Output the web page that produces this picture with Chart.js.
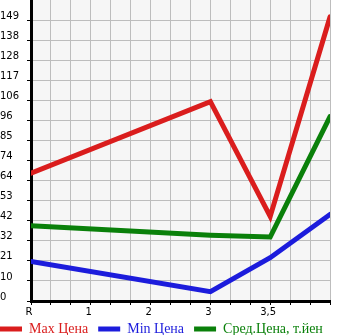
<!DOCTYPE html>
<html>
<head>
<meta charset="utf-8">
<script src="https://cdn.jsdelivr.net/npm/chart.js@4"></script>
<style>
  html, body { margin: 0; padding: 0; background: #fff; overflow: hidden; }
  #wrap { position: relative; width: 345px; height: 335px; }
</style>
</head>
<body>
<div id="wrap"><canvas id="priceChart"></canvas></div>
<script>
// x axis labels (one per unit on the x scale)
const xLabels = ['R', '1', '2', '3', '3,5'];
// x position of each data point on that scale
const pointPos = [0, 3, 4, 5];
const maxPrice = [68, 106, 45, 151];
const minPrice = [21, 5, 23, 46];
const avgPrice = [40, 35, 34, 98];
const seriesNames = ['Max Цена', 'Min Цена', 'Сред.Цена, т.йен'];
const seriesColors = ['#da1d1d', '#1c1cdc', '#0a800a'];

const yMax = 160;
const yStep = 160 / 15;

const toPoints = vals => vals.map((v, i) => ({ x: pointPos[i], y: v }));

const makeSet = (i, vals) => ({
    label: seriesNames[i],
    data: toPoints(vals),
    borderColor: seriesColors[i],
    backgroundColor: seriesColors[i],
    borderWidth: 5,
    borderCapStyle: 'round',
    borderJoinStyle: 'miter',
    pointRadius: 0,
    tension: 0,
    yAxisID: 'y'
});

// light grey plot background, and y labels pulled back to the left edge
const plotBg = {
    id: 'plotBg',
    afterLayout(chart) {
        chart.scales.y.left = 0;
    },
    beforeDraw(chart) {
        const a = chart.chartArea, ctx = chart.ctx;
        ctx.save();
        ctx.fillStyle = '#f6f6f6';
        ctx.fillRect(a.left, a.top, a.right - a.left, a.bottom - a.top);
        ctx.restore();
    }
};

const config = {
    type: 'line',
    data: { datasets: [makeSet(0, maxPrice), makeSet(1, minPrice), makeSet(2, avgPrice)] },
    options: {
        responsive: true,
        maintainAspectRatio: false,
        animation: false,
        layout: { padding: { left: -10, right: 0, top: 0, bottom: -11 } },
        scales: {
            x: {
                type: 'linear',
                min: 0,
                max: 5,
                afterBuildTicks: s => { s.ticks = Array.from({ length: 16 }, (_, i) => ({ value: i / 3 })); },
                afterFit: s => { s.height = 11; s.paddingLeft = 0; s.paddingRight = 0; },
                grid: { color: '#bdbdbd', lineWidth: 1, tickColor: '#000', tickLength: 4 },
                border: { color: '#000', width: 3 },
                ticks: {
                    autoSkip: false,
                    maxRotation: 0,
                    // mirrored so the labels are not clipped to the thin axis box
                    mirror: true,
                    padding: -17,
                    labelOffset: -2,
                    color: '#000',
                    font: { family: 'DejaVu Sans', size: 10 },
                    callback: v => {
                        const k = Math.round(v * 3);
                        return (k % 3 === 0 && k / 3 < xLabels.length) ? xLabels[k / 3] : '';
                    }
                }
            },
            y: {
                min: 0,
                max: yMax,
                afterBuildTicks: s => { s.ticks = Array.from({ length: 15 }, (_, i) => ({ value: i * yStep })); },
                afterFit: s => { s.width = 41; s.paddingTop = 0; s.paddingBottom = 0; },
                grid: { color: '#bdbdbd', lineWidth: 1, tickColor: '#000', tickLength: 4 },
                border: { color: '#000', width: 3 },
                ticks: {
                    crossAlign: 'far',
                    labelOffset: -4,
                    color: '#000',
                    font: { family: 'DejaVu Sans', size: 10 },
                    callback: v => String(Math.floor(v + 1e-6))
                }
            },
            // empty strip on the right so the plot stops short of the edge
            pad: {
                position: 'right',
                grid: { display: false, drawTicks: false },
                border: { display: false },
                ticks: { display: false },
                afterFit: s => { s.width = 15; }
            }
        },
        plugins: {
            tooltip: { enabled: false },
            legend: {
                position: 'bottom',
                align: 'start',
                labels: {
                    boxWidth: 22,
                    boxHeight: 5,
                    useBorderRadius: true,
                    borderRadius: 2.5,
                    padding: 10,
                    font: { family: 'Liberation Serif', size: 14 },
                    generateLabels: chart => chart.data.datasets.map((d, i) => ({
                        text: d.label,
                        fillStyle: d.borderColor,
                        strokeStyle: d.borderColor,
                        lineWidth: 0,
                        fontColor: d.borderColor,
                        datasetIndex: i
                    }))
                }
            }
        }
    },
    plugins: [plotBg]
};

const priceChart = new Chart(document.getElementById('priceChart'), config);
</script>
</body>
</html>
